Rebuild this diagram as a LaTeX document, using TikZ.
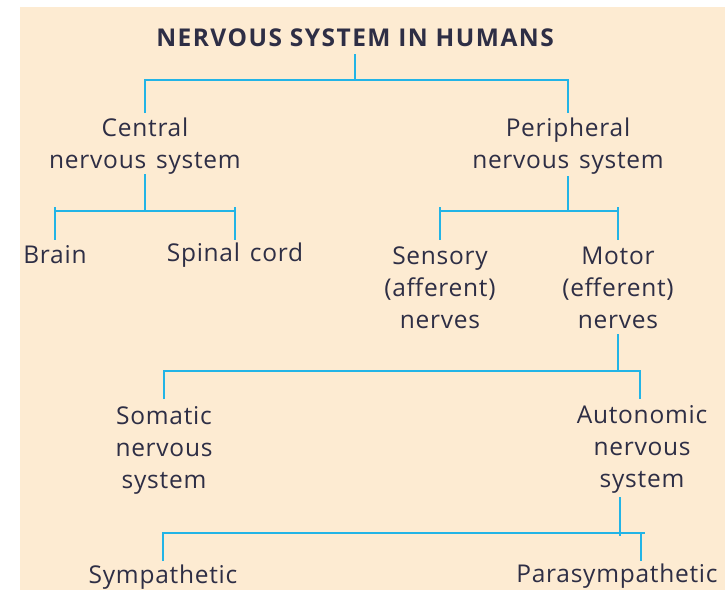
\documentclass[tikz,border=0pt]{standalone}
\usepackage{fontspec}
\setmainfont{Open Sans}
\newfontfamily\bodyfont[LetterSpace=3,WordSpace=1.4]{Open Sans}
\newfontfamily\titlefont[LetterSpace=6]{Open Sans}
\definecolor{bgc}{HTML}{FDEBD2}
\definecolor{txt}{HTML}{2E2E45}
\definecolor{lnc}{HTML}{22B4E6}
\begin{document}
\begin{tikzpicture}[x=1pt,y=-1pt,
  lbl/.style={font=\bodyfont\fontsize{24.5}{32}\selectfont, text=txt, align=center, inner sep=0pt},
  ttl/.style={font=\titlefont\fontsize{24.5}{28}\selectfont\bfseries, text=txt, inner sep=0pt},
  conn/.style={draw=lnc, line width=2.4pt, line join=miter}]
\useasboundingbox (0,0) rectangle (727,590);
\fill[bgc] (20,7) rectangle (725,590);

\node[ttl] (t) at (355,38) {NERVOUS SYSTEM IN HUMANS};
\node[lbl] (cns) at (145,146) {Central\\nervous system};
\node[lbl] (pns) at (568,146) {Peripheral\\nervous system};
\node[lbl] (brain) at (55,255) {Brain};
\node[lbl] (spinal) at (235,255) {Spinal cord};
\node[lbl] (sens) at (440,288) {Sensory\\(afferent)\\nerves};
\node[lbl] (motor) at (618,288) {Motor\\(efferent)\\nerves};
\node[lbl] (som) at (164,450) {Somatic\\nervous\\system};
\node[lbl] (auto) at (642,449) {Autonomic\\nervous\\system};
\node[lbl] (symp) at (163,577) {Sympathetic};
\node[lbl] (para) at (617,576) {Parasympathetic};

% title -> CNS / PNS
\draw[conn] (t.south |- 0,54) -- (t.south |- 0,80);
\draw[conn] (cns.north |- 0,113) -- (cns.north |- 0,80) -- (pns.north |- 0,80) -- (pns.north |- 0,113);
% CNS -> brain / spinal cord
\draw[conn] (cns.south |- 0,174) -- (cns.south |- 0,211);
\draw[conn] (brain.north |- 0,211) -- (spinal.north |- 0,211);
\draw[conn] (brain.north |- 0,207) -- (brain.north |- 0,240);
\draw[conn] (spinal.north |- 0,207) -- (spinal.north |- 0,240);
% PNS -> sensory / motor
\draw[conn] (pns.south |- 0,176) -- (pns.south |- 0,211);
\draw[conn] (sens.north |- 0,211) -- (motor.north |- 0,211);
\draw[conn] (sens.north |- 0,207) -- (sens.north |- 0,240);
\draw[conn] (motor.north |- 0,207) -- (motor.north |- 0,240);
% motor -> somatic / autonomic
\draw[conn] (motor.south |- 0,334) -- (motor.south |- 0,371);
\draw[conn] (som.north |- 0,399) -- (som.north |- 0,371) -- (640,371) -- (640,399);
% autonomic -> sympathetic / parasympathetic
\coordinate (aj) at (620,533);
\draw[conn] (aj |- 0,497) -- (620,536);
\draw[conn] (symp.north |- 0,561) -- (symp.north |- 0,533) -- (645,533);
\draw[conn] (641,533) -- (641,561);
\end{tikzpicture}
\end{document}
